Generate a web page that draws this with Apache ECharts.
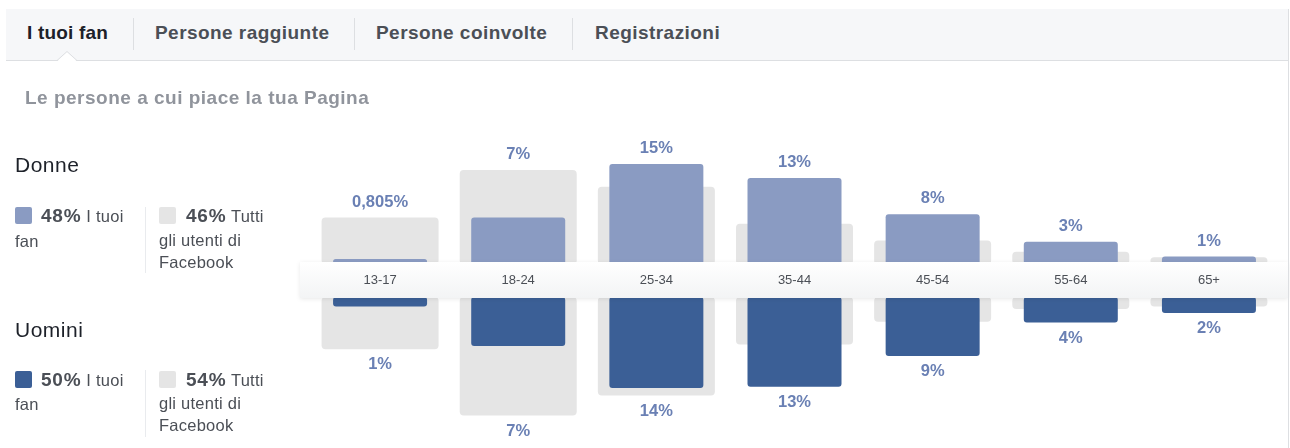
<!DOCTYPE html>
<html lang="it">
<head>
<meta charset="UTF-8">
<title>I tuoi fan</title>
<style>
  html, body { margin: 0; padding: 0; background: #fff; }
  body {
    width: 1290px; height: 448px; position: relative; overflow: hidden;
    font-family: "Liberation Sans", Arial, Helvetica, sans-serif; color: #4b4f56;
  }
  #chart-container { position: absolute; left: 0; top: 0; width: 1290px; height: 448px; }
  .tabs {
    position: absolute; left: 6px; top: 9px; width: 1282px; height: 51px;
    background: #f6f7f9; border-bottom: 1px solid #dddfe2;
  }
  .tab { position: absolute; top: 12px; line-height: 24px; font-size: 19px; font-weight: bold; color: #4b4f56; white-space: nowrap; letter-spacing: 0.45px; }
  .tab.active { color: #1d2129; letter-spacing: 0.2px; }
  .sep { position: absolute; width: 1px; background: #dddfe2; }
  .notch { position: absolute; left: 57px; top: 51px; }
  .edge { position: absolute; left: 1288px; top: 9px; width: 1px; height: 439px; background: #dddfe2; }
  .subtitle { position: absolute; left: 25px; top: 86px; line-height: 24px; font-size: 19px; font-weight: bold; color: #90949c; white-space: nowrap; letter-spacing: 0.5px; }
  .gender { position: absolute; left: 15px; font-size: 21px; line-height: 26px; color: #1d2129; letter-spacing: 0.5px; }
  .t { position: absolute; white-space: nowrap; line-height: 24px; font-size: 16.5px; color: #4b4f56; letter-spacing: 0.25px; }
  .t b { font-size: 19px; letter-spacing: 0.8px; }
  .sq { position: absolute; width: 17px; height: 17px; border-radius: 2px; }
  .vsep { position: absolute; left: 145px; width: 1px; background: #e9ebee; }
</style>
</head>
<body>
<div id="chart-container"></div>

<div class="tabs">
  <div class="tab active" style="left:21px">I tuoi fan</div>
  <div class="sep" style="left:127px;top:9px;height:32px"></div>
  <div class="tab" style="left:149px">Persone raggiunte</div>
  <div class="sep" style="left:348px;top:9px;height:32px"></div>
  <div class="tab" style="left:370px">Persone coinvolte</div>
  <div class="sep" style="left:566px;top:9px;height:32px"></div>
  <div class="tab" style="left:589px">Registrazioni</div>
</div>
<svg class="notch" width="22" height="11">
  <polygon points="0,10.5 10,1 20,10.5" fill="#ffffff"/>
  <polyline points="0,9.5 10,0.5 20,9.5" fill="none" stroke="#dddfe2" stroke-width="1"/>
</svg>
<div class="edge"></div>

<div class="subtitle">Le persone a cui piace la tua Pagina</div>

<div class="gender" style="top:152px">Donne</div>
<div class="sq" style="left:15px;top:207px;background:#8a9bc2"></div>
<div class="t" style="left:41px;top:204px"><b>48%</b> I tuoi</div>
<div class="t" style="left:15px;top:229px">fan</div>
<div class="vsep" style="top:207px;height:66px"></div>
<div class="sq" style="left:159px;top:207px;background:#e5e5e5"></div>
<div class="t" style="left:186px;top:204px"><b>46%</b> Tutti</div>
<div class="t" style="left:159px;top:228px">gli utenti di</div>
<div class="t" style="left:159px;top:250px">Facebook</div>

<div class="gender" style="top:317px">Uomini</div>
<div class="sq" style="left:15px;top:371px;background:#3b5f96"></div>
<div class="t" style="left:41px;top:368px"><b>50%</b> I tuoi</div>
<div class="t" style="left:15px;top:392px">fan</div>
<div class="vsep" style="top:370px;height:67px"></div>
<div class="sq" style="left:159px;top:371px;background:#e5e5e5"></div>
<div class="t" style="left:186px;top:368px"><b>54%</b> Tutti</div>
<div class="t" style="left:159px;top:391px">gli utenti di</div>
<div class="t" style="left:159px;top:413px">Facebook</div>

<script src="https://cdn.jsdelivr.net/npm/echarts@6/dist/echarts.min.js"></script>
<script>
  // age groups and shares (% of total)
  const ageGroups = ['13-17', '18-24', '25-34', '35-44', '45-54', '55-64', '65+'];
  const womenFans = [0.805, 7.0, 15.0, 12.9, 7.5, 3.4, 1.2];
  const womenAll = [7.0, 14.1, 11.6, 6.1, 3.6, 1.9, 1.1];
  const menFans = [1.4, 7.3, 13.6, 13.4, 8.8, 3.8, 2.4];
  const menAll = [7.8, 17.7, 14.7, 7.1, 3.7, 1.8, 1.4];

  const fanWomenColor = '#8a9bc2';
  const fanMenColor = '#3b5f96';
  const allColor = '#e5e5e5';
  const labelColor = '#6a80b4';

  function fmt(v) {
    return v < 1 ? String(v).replace('.', ',') + '%' : Math.round(v) + '%';
  }

  var dom = document.getElementById('chart-container');
  var myChart = echarts.init(dom, null, { renderer: 'canvas' });

  const gridLeft = 311, gridWidth = 967, bandMax = 20, bandHeight = 134;

  function catAxis(grid, showLabels) {
    return {
      type: 'category', gridIndex: grid, data: ageGroups, z: 20,
      axisLine: { show: false }, axisTick: { show: false },
      axisLabel: { show: showLabels, margin: 9, fontSize: 13, color: '#4b4f56', fontFamily: 'Liberation Sans' }
    };
  }
  function valAxis(grid, inverse) {
    return { type: 'value', gridIndex: grid, min: 0, max: bandMax, inverse: inverse, show: false, splitLine: { show: false } };
  }

  const labelStyle = {
    show: true, position: 'outside', distance: 7,
    fontSize: 16.5, fontWeight: 'bold', color: labelColor, fontFamily: 'Liberation Sans'
  };

  function halfSeries(xAll, xFan, y, all, fans, fanColor) {
    return [
      {
        type: 'bar', xAxisIndex: xAll, yAxisIndex: y, data: all, barWidth: 117, z: 2, silent: true,
        itemStyle: { color: allColor, borderRadius: 4 }
      },
      {
        type: 'bar', xAxisIndex: xFan, yAxisIndex: y, data: fans, barWidth: 94, z: 3, silent: true,
        itemStyle: { color: fanColor, borderRadius: 3 }
      },
      {
        // invisible carrier for the value label, sitting above the taller bar
        type: 'bar', xAxisIndex: xAll, yAxisIndex: y, barGap: '-100%', barWidth: 117, z: 4, silent: true,
        data: all.map((v, i) => Math.max(v, fans[i])),
        itemStyle: { color: 'rgba(0,0,0,0)' },
        label: Object.assign({}, labelStyle, { formatter: p => fmt(fans[p.dataIndex]) })
      }
    ];
  }

  var option = {
    animation: false,
    grid: [
      { left: gridLeft, width: gridWidth, top: 264.5 - bandHeight, height: bandHeight },
      { left: gridLeft, width: gridWidth, top: 297, height: bandHeight }
    ],
    xAxis: [catAxis(0, true), catAxis(0, false), catAxis(1, false), catAxis(1, false)],
    yAxis: [valAxis(0, false), valAxis(1, true)],
    graphic: {
      elements: [
        {
          type: 'rect', z: 10, silent: true,
          shape: { x: 300, y: 262, width: 988, height: 36 },
          style: {
            fill: new echarts.graphic.LinearGradient(0, 0, 0, 1, [
              { offset: 0, color: '#ffffff' },
              { offset: 1, color: '#f3f4f5' }
            ]),
            shadowBlur: 4, shadowColor: 'rgba(0,0,0,0.09)', shadowOffsetY: 1
          }
        }
      ]
    },
    series: [].concat(
      halfSeries(0, 1, 0, womenAll, womenFans, fanWomenColor),
      halfSeries(2, 3, 1, menAll, menFans, fanMenColor)
    )
  };

  myChart.setOption(option);
  window.addEventListener('resize', myChart.resize);
</script>
</body>
</html>
